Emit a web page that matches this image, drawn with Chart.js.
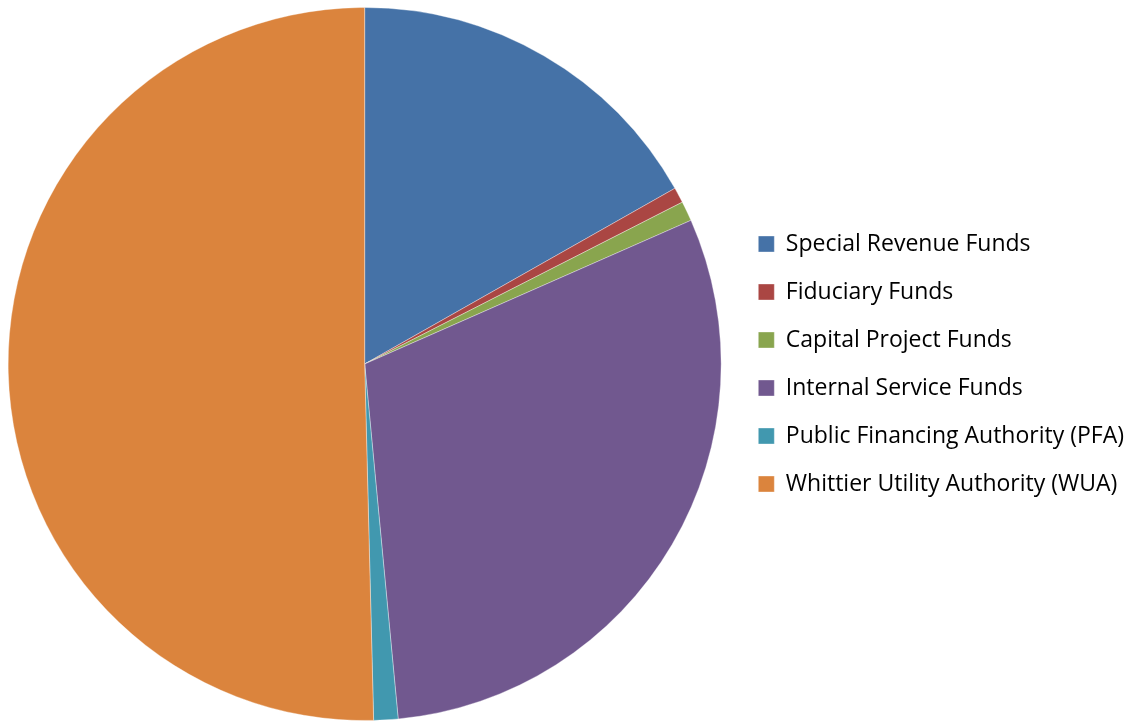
<!DOCTYPE html>
<html>
<head>
<meta charset="utf-8">
<script src="https://cdn.jsdelivr.net/npm/chart.js@4"></script>
<style>
  html, body { margin: 0; padding: 0; background: #fff; overflow: hidden; }
  #wrap { width: 1138px; height: 722px; position: relative; left: -4px; }
</style>
</head>
<body>
<div id="wrap"><canvas id="fundsChart"></canvas></div>
<script>
// Fund shares (percent of total)
const funds = [
  "Special Revenue Funds",
  "Fiduciary Funds",
  "Capital Project Funds",
  "Internal Service Funds",
  "Public Financing Authority (PFA)",
  "Whittier Utility Authority (WUA)",
];
const shares = [16.8, 0.7, 0.9, 30.1, 1.1, 50.4];
const colors = ["#4572A7", "#AA4643", "#89A54E", "#71588F", "#4198AF", "#DB843D"];

const ctx = document.getElementById("fundsChart").getContext("2d");
const chart = new Chart(ctx, {
  type: "pie",
  data: {
    labels: funds,
    datasets: [
      {
        data: shares,
        backgroundColor: colors,
        borderColor: "rgba(255,255,255,0.35)",
        borderWidth: 1,
      },
    ],
  },
  options: {
    responsive: true,
    maintainAspectRatio: false,
    animation: false,
    layout: { padding: { top: 7, bottom: 1, left: 0, right: 0 } },
    plugins: {
      tooltip: { enabled: false },
      legend: {
        position: "right",
        labels: {
          color: "#000",
          font: { family: "Open Sans", size: 23 },
          boxWidth: 16,
          boxHeight: 16,
          padding: 25,
        },
      },
    },
  },
});
</script>
</body>
</html>
